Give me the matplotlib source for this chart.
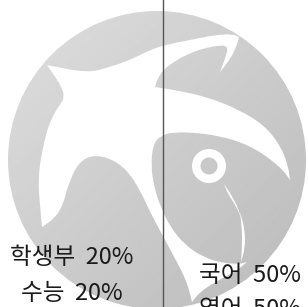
import numpy as np
import matplotlib
matplotlib.use("Agg")
import matplotlib.pyplot as plt
from matplotlib.patches import Circle, PathPatch, Wedge
from matplotlib.path import Path

plt.rcParams["font.family"] = ["Noto Sans CJK KR", "DejaVu Sans"]

# data
left_labels = ["학생부", "수능"]
left_values = [20, 20]
right_labels = ["국어", "영어"]
right_values = [50, 50]

W, H = 308, 307
TXT = "#1a1a1a"
LINE = "#555555"

# watermark logo outline (pixel coords, y down); doubled points stay sharp
body = [(47, 65), (47, 65), (87, 73), (110, 67), (130, 60), (150, 50), (165, 45), (190, 40),
        (215, 35), (232, 34), (239, 37), (239, 37), (237, 45), (231, 58), (220, 72), (220, 72),
        (226, 56), (228, 47), (222, 45), (205, 48), (190, 53), (175, 61), (163, 70), (157, 80),
        (155, 87), (155, 87), (180, 91), (207, 97), (240, 110), (265, 126), (280, 145),
        (288, 165), (290, 180), (290, 180), (283, 170), (270, 159), (257, 150), (240, 142),
        (223, 137), (200, 133), (173, 132), (160, 136), (153, 145), (151, 165), (154, 187),
        (161, 208), (171, 228), (185, 245), (203, 257), (222, 263), (240, 264),
        (247, 262), (247, 262), (235, 272), (215, 282), (200, 292), (192, 302), (192, 302),
        (187, 282), (177, 262), (165, 240), (150, 212), (140, 190), (127, 170), (110, 158),
        (92, 155), (78, 163), (68, 185), (63, 205), (55, 218), (42, 227), (42, 227), (40, 205),
        (38, 180), (42, 150), (50, 120), (63, 100), (63, 100), (64, 90)]
handle = [(224, 184), (224, 184), (232, 196), (238, 208), (241, 218), (241, 218), (236, 206), (228, 194)]
tail = [(240, 212), (240, 212), (245, 230), (245, 248), (241, 262), (241, 262), (242, 246), (242, 230)]


def smooth(points):
    p = np.asarray(points, float)
    m = (p + np.roll(p, -1, axis=0)) / 2
    verts, codes = [m[-1]], [Path.MOVETO]
    for i in range(len(p)):
        verts += [p[i], m[i]]
        codes += [Path.CURVE3, Path.CURVE3]
    verts.append(m[-1])
    codes.append(Path.CLOSEPOLY)
    return Path(verts, codes)


fig = plt.figure(figsize=(W / 100, H / 100), dpi=100)
ax = fig.add_axes([0, 0, 1, 1])
ax.set_xlim(0, W)
ax.set_ylim(H, 0)
ax.axis("off")

# grey disc with a soft diagonal gradient
cx, cy, r = 157, 160, 149
xx, yy = np.meshgrid(np.linspace(cx - r, cx + r, 200), np.linspace(cy - r, cy + r, 200))
shade = 0.87 - 0.14 * ((xx - (cx - r)) + (yy - (cy - r))) / (4 * r)
disc = Circle((cx, cy), r, transform=ax.transData, facecolor="none", edgecolor="none")
ax.add_patch(disc)
im = ax.imshow(shade, cmap="gray", vmin=0, vmax=1, extent=[cx - r, cx + r, cy + r, cy - r],
               interpolation="bilinear", zorder=1)
im.set_clip_path(disc)

for shape in (body, handle, tail):
    ax.add_patch(PathPatch(smooth(shape), facecolor="white", edgecolor="none", zorder=2))
ax.add_patch(Wedge((209, 166), 17, 0, 360, width=8.5, facecolor="white", edgecolor="none", zorder=2))

# divider
ax.axvline(163, color=LINE, lw=1, zorder=3)

for i, (lab, v) in enumerate(zip(left_labels, left_values)):
    ax.text(72, 258 + 35 * i, f"{lab}  {v}%", ha="center", va="center",
            fontsize=17, color=TXT, zorder=4)
for i, (lab, v) in enumerate(zip(right_labels, right_values)):
    ax.text(250, 275 + 35 * i, f"{lab}  {v}%", ha="center", va="center",
            fontsize=17, color=TXT, zorder=4)

fig.savefig("out.png", dpi=100)
